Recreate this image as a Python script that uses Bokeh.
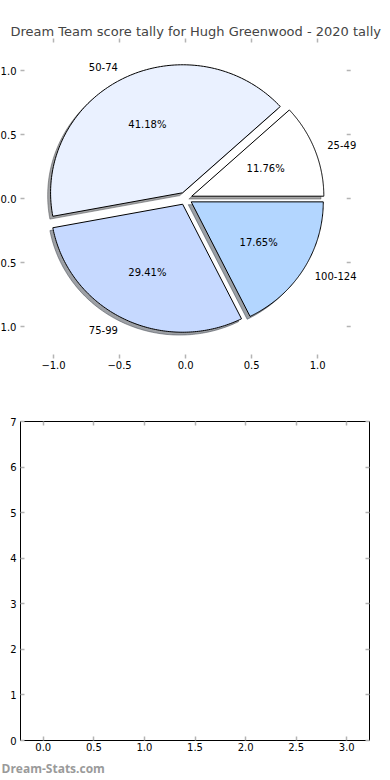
import numpy as np
from bokeh.plotting import figure
from bokeh.models import Range1d, LinearAxis, FixedTicker, ColumnDataSource, Title
from bokeh.layouts import column
from bokeh.core.properties import value
from bokeh.embed import file_html
from bokeh.resources import INLINE

# ---------------- data ----------------
title_text = "Dream Team score tally for Hugh Greenwood - 2020 tally"
categories = ["25-49", "50-74", "75-99", "100-124"]
counts = [2, 7, 5, 3]
colors = ["#FFFFFF", "#EAF1FF", "#C6D9FF", "#B3D6FF"]
explode = [0.05, 0.05, 0.05, 0.05]

pie_ticks = [-1.0, -0.5, 0.0, 0.5, 1.0]
pie_tick_labels = ["\u22121.0", "\u22120.5", "0.0", "0.5", "1.0"]
pie_limit = 1.25

bar_xticks = [0.0, 0.5, 1.0, 1.5, 2.0, 2.5, 3.0]
bar_xtick_labels = ["0.0", "0.5", "1.0", "1.5", "2.0", "2.5", "3.0"]
bar_yticks = [0, 1, 2, 3, 4, 5, 6, 7]
bar_ytick_labels = ["0", "1", "2", "3", "4", "5", "6", "7"]

watermark = "Dream-Stats.com"

FONT = "DejaVu Sans"
TICK_COLOR = "#b4b4b4"


def style_axis(ax, ticks, labels, show_labels, standoff=3):
    ax.ticker = FixedTicker(ticks=ticks)
    ax.major_label_overrides = {float(t): l for t, l in zip(ticks, labels)}
    ax.minor_tick_line_color = None
    ax.major_tick_in = 4
    ax.major_tick_out = 0
    ax.major_tick_line_color = TICK_COLOR
    ax.major_tick_line_width = 1.5
    ax.axis_line_color = None
    ax.major_label_text_font = FONT
    if show_labels:
        ax.major_label_text_color = "black"
        ax.major_label_text_font_size = "10px"
        ax.major_label_standoff = standoff
    else:
        ax.major_label_text_color = None
        ax.major_label_text_font_size = "1px"
        ax.major_label_standoff = 0


# ---------------- pie figure ----------------
# the frame is widened to the right so that the outer labels are not clipped;
# the right-hand ticks are drawn at the axes limit (x = pie_limit)
p1 = figure(width=401, height=390, output_backend="svg", toolbar_location=None,
            x_range=Range1d(-pie_limit, pie_limit + 0.15), y_range=Range1d(-pie_limit, pie_limit),
            x_axis_location=None, y_axis_location=None,
            min_border_left=30, min_border_right=0, min_border_top=38,
            min_border_bottom=32)
p1.outline_line_color = None
p1.grid.visible = False
p1.title.text = title_text
p1.title.text_font = FONT
p1.title.text_font_size = "13px"
p1.title.text_font_style = "normal"
p1.title.align = "left"
p1.title.offset = -10
p1.title.standoff = 0

ax_b = LinearAxis(); style_axis(ax_b, pie_ticks, pie_tick_labels, True, 2)
ax_l = LinearAxis(); style_axis(ax_l, pie_ticks, pie_tick_labels, True, 4)
ax_t = LinearAxis(); style_axis(ax_t, pie_ticks, pie_tick_labels, False)
p1.add_layout(ax_b, "below")
p1.add_layout(ax_l, "left")
p1.add_layout(ax_t, "above")

# right-hand tick marks at the axes limit
tick_len = 0.03
p1.segment(x0=[pie_limit - tick_len] * len(pie_ticks), y0=pie_ticks,
           x1=[pie_limit] * len(pie_ticks), y1=pie_ticks,
           line_color=TICK_COLOR, line_width=1.5)

total = float(sum(counts))
fracs = [c / total for c in counts]
edges = np.concatenate([[0.0], np.cumsum(fracs)]) * 2 * np.pi

wx, wy, sx, sy, shadow_cols = [], [], [], [], []
lab_x, lab_y, lab_align, pct_x, pct_y, pct_text = [], [], [], [], [], []
shadow_off = -0.022
for i in range(len(counts)):
    a0, a1 = edges[i], edges[i + 1]
    mid = 0.5 * (a0 + a1)
    cx = explode[i] * np.cos(mid)
    cy = explode[i] * np.sin(mid)
    th = np.linspace(a0, a1, 120)
    xs = np.concatenate([[cx], cx + np.cos(th)])
    ys = np.concatenate([[cy], cy + np.sin(th)])
    wx.append(list(xs)); wy.append(list(ys))
    sx.append(list(xs + shadow_off)); sy.append(list(ys + shadow_off))
    r, g, b = (int(colors[i][k:k + 2], 16) for k in (1, 3, 5))
    shadow_cols.append("#%02x%02x%02x" % (int(0.3 * r), int(0.3 * g), int(0.3 * b)))
    lx = cx + 1.1 * np.cos(mid)
    ly = cy + 1.1 * np.sin(mid)
    lab_x.append(float(lx)); lab_y.append(float(ly))
    lab_align.append("left" if lx > 0 else "right")
    pct_x.append(cx + 0.6 * np.cos(mid)); pct_y.append(cy + 0.6 * np.sin(mid))
    pct_text.append("%.2f%%" % (100 * fracs[i]))

p1.patches(xs="xs", ys="ys", source=ColumnDataSource(dict(xs=sx, ys=sy, c=shadow_cols)),
           fill_color="c", fill_alpha=0.5, line_color="c", line_alpha=0.5, line_width=1)
p1.patches(xs="xs", ys="ys", source=ColumnDataSource(dict(xs=wx, ys=wy, c=colors)),
           fill_color="c", line_color="black", line_width=1)

p1.text(x="x", y="y", text="t", text_align="a",
        source=ColumnDataSource(dict(x=lab_x, y=lab_y, t=categories, a=lab_align)),
        text_baseline="middle", text_font=value(FONT), text_font_size="10px",
        text_color="black")
p1.text(x="x", y="y", text="t",
        source=ColumnDataSource(dict(x=pct_x, y=pct_y, t=pct_text)),
        text_align="center", text_baseline="middle", text_font=value(FONT),
        text_font_size="10px", text_color="black")

# ---------------- empty bar figure ----------------
p2 = figure(width=400, height=390, output_backend="svg", toolbar_location=None,
            x_range=Range1d(-0.225, 3.225), y_range=Range1d(0, 7),
            x_axis_location=None, y_axis_location=None,
            min_border_left=30, min_border_right=20, min_border_top=31,
            min_border_bottom=40)
p2.outline_line_color = "black"
p2.outline_line_width = 1
p2.grid.visible = False

bx_b = LinearAxis(); style_axis(bx_b, bar_xticks, bar_xtick_labels, True, 2)
bx_l = LinearAxis(); style_axis(bx_l, bar_yticks, bar_ytick_labels, True, 4)
bx_t = LinearAxis(); style_axis(bx_t, bar_xticks, bar_xtick_labels, False)
bx_r = LinearAxis(); style_axis(bx_r, bar_yticks, bar_ytick_labels, False)
p2.add_layout(bx_b, "below")
p2.add_layout(bx_l, "left")
p2.add_layout(bx_t, "above")
p2.add_layout(bx_r, "right")

p2.add_layout(Title(text=watermark, align="left", text_color="#9a9a9a",
                    text_font="Open Sans", text_font_size="12px",
                    text_font_style="bold", offset=-19, standoff=8), "below")

layout = column(p1, p2, spacing=0, margin=(0, 0, 0, -11))

open("out.html", "w").write(file_html(layout, INLINE))
